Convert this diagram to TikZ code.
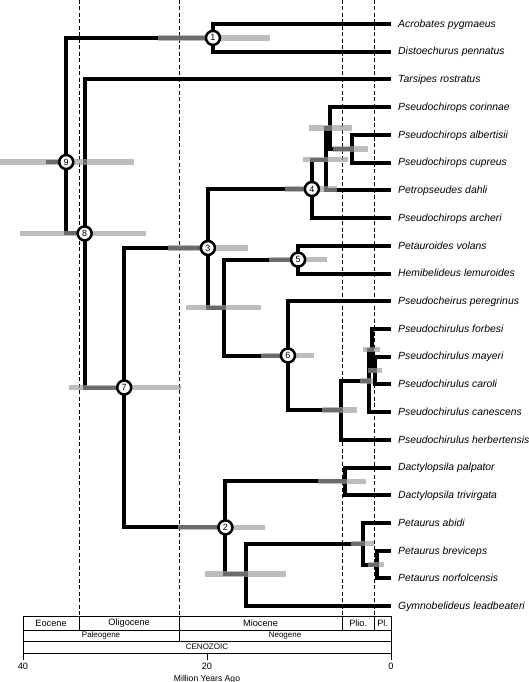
\documentclass[tikz,border=0pt]{standalone}
\usepackage{fontspec}
\setmainfont{Liberation Sans}
\usepackage{xcolor}
\usetikzlibrary{positioning}

\begin{document}
\begin{tikzpicture}[
    x=-9.2pt, y=-1pt,
    branch/.style={line width=4pt, line join=miter},
    hpd/.style={line width=5.5pt, draw=black!38, draw opacity=0.68},
    boundary/.style={line width=0.8pt, dash pattern=on 4pt off 2.5pt},
    taxon/.style={anchor=west, inner xsep=7pt, inner ysep=0pt, text height=8.6pt, text depth=2pt, font=\fontsize{10.4}{12}\selectfont\itshape},
    nodelabel/.style={circle, draw, line width=2.5pt, fill=white, minimum size=14pt, inner sep=0pt, font=\fontsize{9}{9}\selectfont},
    tsbox/.style={draw, line width=0.7pt},
    tslabel/.style={inner sep=0pt, font=\fontsize{9.2}{10}\selectfont},
    tssmall/.style={inner sep=0pt, font=\fontsize{8}{9}\selectfont}
]
\useasboundingbox (42.5,0) rectangle (-15,682);

% epoch boundaries
\draw[boundary] (33.9,0) -- (33.9,616);
\draw[boundary] (23.03,0) -- (23.03,616);
\draw[boundary] (5.33,0) -- (5.33,616);
\draw[boundary] (1.8,0) -- (1.8,616);

% taxa
\node[taxon] (acro) at (0,24.0) {Acrobates pygmaeus};
\node[taxon] (dist) at (0,51.7) {Distoechurus pennatus};
\node[taxon] (tars) at (0,79.4) {Tarsipes rostratus};
\node[taxon] (corin) at (0,107.2) {Pseudochirops corinnae};
\node[taxon] (alber) at (0,134.9) {Pseudochirops albertisii};
\node[taxon] (cupre) at (0,162.6) {Pseudochirops cupreus};
\node[taxon] (dahli) at (0,190.3) {Petropseudes dahli};
\node[taxon] (arche) at (0,218.0) {Pseudochirops archeri};
\node[taxon] (volan) at (0,245.8) {Petauroides volans};
\node[taxon] (lemur) at (0,273.5) {Hemibelideus lemuroides};
\node[taxon] (pereg) at (0,301.2) {Pseudocheirus peregrinus};
\node[taxon] (forbe) at (0,328.9) {Pseudochirulus forbesi};
\node[taxon] (mayer) at (0,356.6) {Pseudochirulus mayeri};
\node[taxon] (carol) at (0,384.4) {Pseudochirulus caroli};
\node[taxon] (canes) at (0,412.1) {Pseudochirulus canescens};
\node[taxon] (herbe) at (0,439.8) {Pseudochirulus herbertensis};
\node[taxon] (palpa) at (0,467.5) {Dactylopsila palpator};
\node[taxon] (trivi) at (0,495.2) {Dactylopsila trivirgata};
\node[taxon] (abidi) at (0,523.0) {Petaurus abidi};
\node[taxon] (brevi) at (0,550.7) {Petaurus breviceps};
\node[taxon] (norfo) at (0,578.4) {Petaurus norfolcensis};
\node[taxon] (leadb) at (0,606.1) {Gymnobelideus leadbeateri};

% internal nodes (x = Ma)
\coordinate (stem) at (37.5,162);
\coordinate (n9) at (35.3,162);
\coordinate (n1) at (19.35,37.9);
\coordinate (n8) at (33.3,233.4);
\coordinate (n7) at (29.0,387.5);
\coordinate (n3) at (19.9,248);
\coordinate (n4) at (8.6,189);
\coordinate (chA) at (7.07,159.7);
\coordinate (chB) at (6.63,128);
\coordinate (chC) at (4.24,148.75);
\coordinate (psX) at (18.15,307.5);
\coordinate (n5) at (10.1,259.6);
\coordinate (n6) at (11.2,355.5);
\coordinate (pcY) at (5.43,410);
\coordinate (pcZ) at (2.39,380.8);
\coordinate (pcW) at (2.07,349.7);
\coordinate (pcV) at (1.74,370.5);
\coordinate (n2) at (18.0,527.4);
\coordinate (dacD) at (5.0,481.4);
\coordinate (gymE) at (15.76,574);
\coordinate (petF) at (3.04,543.5);
\coordinate (petG) at (1.52,564.5);

% branches
\draw[branch] (stem) -- (n9);
\draw[branch] (n9) |- (n1);
\draw[branch] (n9) |- (n8);
\draw[branch] (n1) |- (acro.west);
\draw[branch] (n1) |- (dist.west);
\draw[branch] (n8) |- (tars.west);
\draw[branch] (n8) |- (n7);
\draw[branch] (n7) |- (n3);
\draw[branch] (n7) |- (n2);
\draw[branch] (n3) |- (n4);
\draw[branch] (n3) |- (psX);
\draw[branch] (n4) |- (chA);
\draw[branch] (n4) |- (arche.west);
\draw[branch] (chA) |- (chB);
\draw[branch] (chA) |- (dahli.west);
\draw[branch] (chB) |- (corin.west);
\draw[branch] (chB) |- (chC);
\draw[branch] (chC) |- (alber.west);
\draw[branch] (chC) |- (cupre.west);
\draw[branch] (psX) |- (n5);
\draw[branch] (psX) |- (n6);
\draw[branch] (n5) |- (volan.west);
\draw[branch] (n5) |- (lemur.west);
\draw[branch] (n6) |- (pereg.west);
\draw[branch] (n6) |- (pcY);
\draw[branch] (pcY) |- (pcZ);
\draw[branch] (pcY) |- (herbe.west);
\draw[branch] (pcZ) |- (pcW);
\draw[branch] (pcZ) |- (canes.west);
\draw[branch] (pcW) |- (forbe.west);
\draw[branch] (pcW) |- (pcV);
\draw[branch] (pcV) |- (mayer.west);
\draw[branch] (pcV) |- (carol.west);
\draw[branch] (n2) |- (dacD);
\draw[branch] (n2) |- (gymE);
\draw[branch] (dacD) |- (palpa.west);
\draw[branch] (dacD) |- (trivi.west);
\draw[branch] (gymE) |- (petF);
\draw[branch] (gymE) |- (leadb.west);
\draw[branch] (petF) |- (abidi.west);
\draw[branch] (petF) |- (petG);
\draw[branch] (petG) |- (brevi.west);
\draw[branch] (petG) |- (norfo.west);

% 95% HPD bars
\draw[hpd] (42.5,162) -- (27.9,162);
\draw[hpd] (25.3,37.9) -- (13.2,37.9);
\draw[hpd] (40.3,233.4) -- (26.6,233.4);
\draw[hpd] (35.0,387.5) -- (22.8,387.5);
\draw[hpd] (24.2,248) -- (15.5,248);
\draw[hpd] (22.3,307.5) -- (14.1,307.5);
\draw[hpd] (11.5,189) -- (5.87,189);
\draw[hpd] (9.57,159.7) -- (4.67,159.7);
\draw[hpd] (8.9,128) -- (4.24,128);
\draw[hpd] (6.3,148.75) -- (2.5,148.75);
\draw[hpd] (13.26,259.6) -- (6.96,259.6);
\draw[hpd] (14.1,355.5) -- (8.4,355.5);
\draw[hpd] (7.5,410) -- (3.7,410);
\draw[hpd] (3.37,380.8) -- (1.96,380.8);
\draw[hpd] (3.04,349.7) -- (1.2,349.7);
\draw[hpd] (2.5,370.5) -- (0.98,370.5);
\draw[hpd] (23.15,527.4) -- (13.7,527.4);
\draw[hpd] (7.93,481.4) -- (2.72,481.4);
\draw[hpd] (20.2,574) -- (11.4,574);
\draw[hpd] (4.35,543.5) -- (1.85,543.5);
\draw[hpd] (2.5,564.5) -- (0.76,564.5);

% numbered nodes
\node[nodelabel] (c1) at (n1) {1};
\node[nodelabel] (c2) at (n2) {2};
\node[nodelabel] (c3) at (n3) {3};
\node[nodelabel] (c4) at (n4) {4};
\node[nodelabel] (c5) at (n5) {5};
\node[nodelabel] (c6) at (n6) {6};
\node[nodelabel] (c7) at (n7) {7};
\node[nodelabel] (c8) at (n8) {8};
\node[nodelabel] (c9) at (n9) {9};

% time scale
\draw[tsbox] (40,616) rectangle (33.9,630) node[midway, tslabel] {Eocene};
\draw[tsbox] (33.9,616) rectangle (23.03,630) node[midway, tslabel] {Oligocene};
\draw[tsbox] (23.03,616) rectangle (5.33,630) node[midway, tslabel] {Miocene};
\draw[tsbox] (5.33,616) rectangle (1.8,630) node[midway, tslabel] {Plio.};
\draw[tsbox] (1.8,616) rectangle (0,630) node[midway, tslabel] {Pl.};
\draw[tsbox] (40,630) rectangle (23.03,641) node[midway, tssmall] {Paleogene};
\draw[tsbox] (23.03,630) rectangle (0,641) node[midway, tssmall] {Neogene};
\draw[tsbox] (40,641) rectangle (0,653) node[midway, tssmall] {CENOZOIC};
\draw[tsbox] (40,653) -- (40,660);
\draw[tsbox] (20,653) -- (20,660);
\draw[tsbox] (0,653) -- (0,660);
\node[tslabel] (t40) at (40,666) {40};
\node[tslabel] (t20) at (20,666) {20};
\node[tslabel] (t0) at (0,666) {0};
\node[tssmall, font=\fontsize{8.6}{10}\selectfont] (axis) at (20,679) {Million Years Ago};

\end{tikzpicture}
\end{document}
